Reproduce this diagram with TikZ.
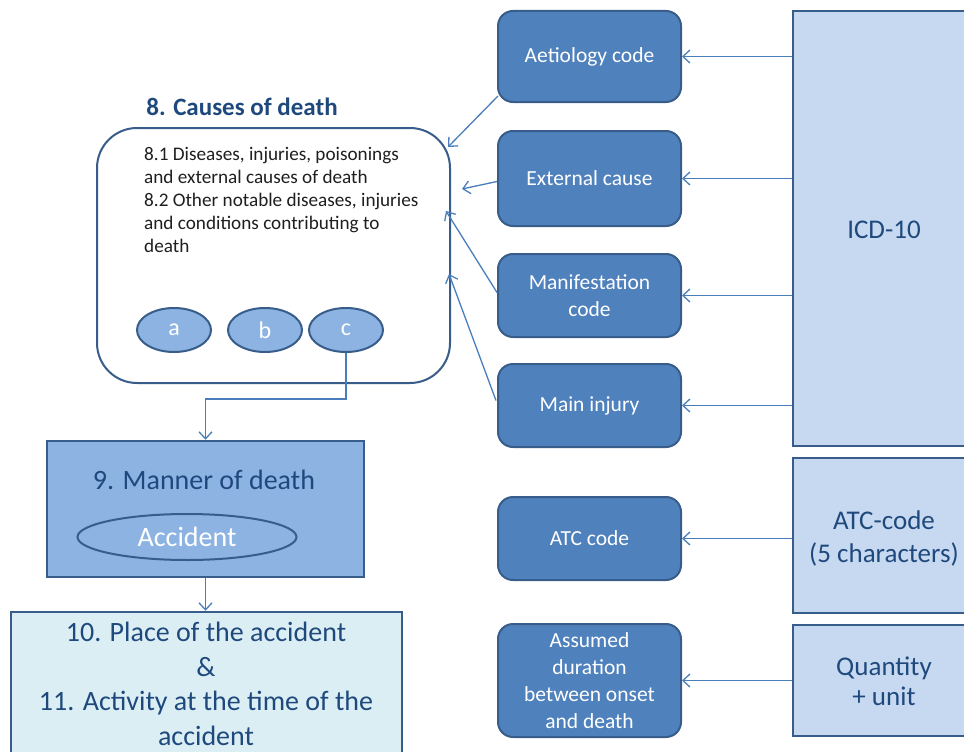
\documentclass[tikz,border=0pt]{standalone}
\usepackage{fontspec}
\setmainfont{Carlito}
\usetikzlibrary{arrows.meta,shapes.geometric,calc}
\definecolor{darkfill}{HTML}{4F81BD}
\definecolor{edge}{HTML}{385D8A}
\definecolor{midfill}{HTML}{8DB3E2}
\definecolor{lightfill}{HTML}{C6D9F1}
\definecolor{palefill}{HTML}{DBEEF4}
\definecolor{navy}{HTML}{1F497D}
\definecolor{link}{HTML}{4A7EBB}
\tikzset{
  codebox/.style={draw=edge, line width=2pt, fill=darkfill, rounded corners=15pt,
    minimum width=183pt, text=white, align=center, font=\fontsize{21.5}{27}\selectfont, inner sep=2pt},
  srcbox/.style={draw=edge, line width=2.5pt, fill=lightfill, minimum width=182pt},
  srctext/.style={text=navy, align=center, font=\fontsize{27}{33}\selectfont},
  sub/.style={ellipse, draw=edge, line width=2pt, fill=midfill, text=white,
    minimum width=74pt, minimum height=44pt, inner sep=0pt, font=\fontsize{24}{26}\selectfont},
  arr/.style={draw=link, line width=1.3pt, -{Straight Barb[length=7pt,width=13pt,line width=1.3pt]}},
}
\begin{document}
\begin{tikzpicture}[x=1pt, y=-1pt]
\useasboundingbox (0,0) rectangle (964,752);
\clip (0,0) rectangle (964,752);

% source boxes on the right
\node[srcbox, minimum height=435pt] (icd) at (884,228.5) {};
\node[srctext] (icdtext) at (884,230) {ICD-10};
\node[srcbox, minimum height=155pt] (atcsrc) at (884,535.5) {};
\node[srctext] (atctext) at (884,538) {ATC-code\\[0pt](5 characters)};
\node[srcbox, minimum height=111pt] (qty) at (884,680.5) {};
\node[srctext] (qtytext) at (884,681.5) {Quantity\\[-3pt]+ unit};

% code boxes
\node[codebox, minimum height=91pt] (aet) at (589.5,56.5) {Aetiology code};
\node[codebox, minimum height=95pt] (ext) at (589.5,178.5) {External cause};
\node[codebox, minimum height=83pt] (man) at (589.5,295.5) {Manifestation\\code};
\node[codebox, minimum height=83pt] (inj) at (589.5,405.5) {Main injury};
\node[codebox, minimum height=83pt] (atc) at (589.5,538.5) {ATC code};
\node[codebox, minimum height=113pt] (dur) at (589.5,680.5)
  {Assumed\\duration\\between onset\\and death};

% causes of death
\node[font=\bfseries\fontsize{25}{28}\selectfont, text=navy] (title) at (242,107) {8. Causes of death};
\node[draw=edge, line width=2pt, fill=white, rounded corners=40pt,
  minimum width=353pt, minimum height=255pt] (cod) at (273.5,255.5) {};
\node[anchor=north west, align=left, inner sep=0pt, text=black!88,
  font=\fontsize{19.2}{23}\selectfont] (list) at (144,147)
  {8.1 Diseases, injuries, poisonings\\and external causes of death\\8.2 Other notable diseases, injuries\\and conditions contributing to\\death};
\node[sub] (a) at (174,330) {a};
\node[sub] (b) at (265,330) {b};
\node[sub] (c) at (346,330) {c};

% manner of death
\node[draw=edge, line width=2.5pt, fill=midfill, minimum width=317pt, minimum height=136pt] (box9) at (205.5,509) {};
\node[text=navy, font=\fontsize{28}{30}\selectfont] (mtitle) at (204,480) {9. Manner of death};
\node[ellipse, draw=edge, line width=2pt, fill=midfill, text=white, minimum width=219pt,
  minimum height=46pt, inner sep=0pt, font=\fontsize{28}{30}\selectfont] (acc) at (187,537) {Accident};

% place and activity
\node[draw=edge, line width=2.5pt, fill=palefill, minimum width=391pt, minimum height=200pt] (box10) at (206.5,712) {};
\node[anchor=north, text=navy, align=center, font=\fontsize{28}{34.5}\selectfont, inner sep=0pt] (ptext) at (206,622)
  {10. Place of the accident\\\&\\11. Activity at the time of the\\accident};

% arrows from the sources
\foreach \n in {aet,ext,man,inj}{\draw[arr] (\n.east -| icd.west) -- (\n.east);}
\draw[arr] (atc.east -| atcsrc.west) -- (atc.east);
\draw[arr] (dur.east -| qty.west) -- (dur.east);

% arrows into the causes of death
\coordinate (t1) at (448,147);
\coordinate (t2) at (462,189);
\coordinate (t3) at (446,211);
\coordinate (t4) at (449,274);
\draw[arr] ($(aet.south west)+(1,-7)$) -- (t1);
\draw[arr] ($(ext.west)+(0,3)$) -- (t2);
\draw[arr] ($(man.west)+(0,-3)$) -- (t3);
\draw[arr] ($(inj.west)+(-1,-5)$) -- (t4);

% flow down the left side
\draw[arr] (c.south) -- ++(0,46) -| (box9.north);
\draw[arr] (box9.south) -- (box9.south |- box10.north);
\end{tikzpicture}
\end{document}
